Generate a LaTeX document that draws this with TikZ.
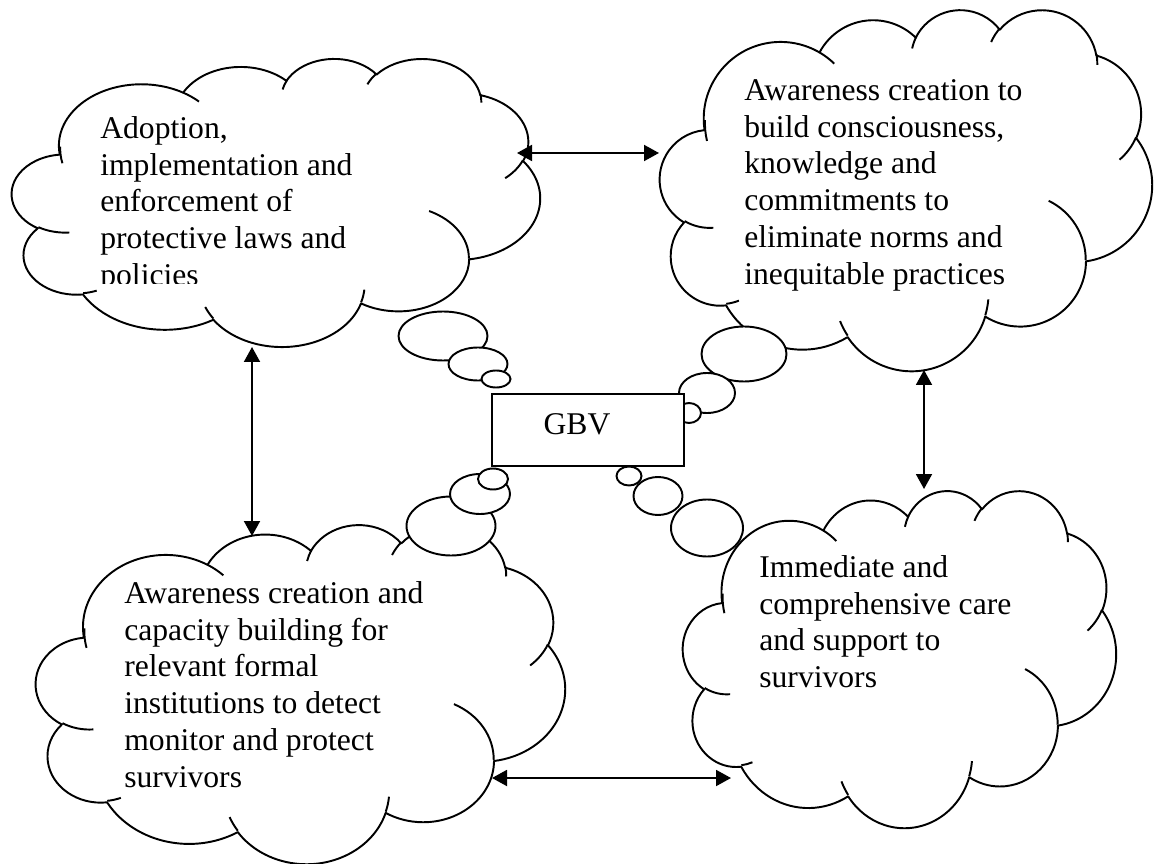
\documentclass[tikz,border=0pt]{standalone}
\usepackage{fontspec}
\setmainfont{Liberation Serif}
\usepackage{tikz}
\usetikzlibrary{positioning,calc,arrows.meta}

\newcommand\puff[4]{arc[x radius=#1, y radius=#2,
  start angle={atan2(#1*sin(#3),#2*cos(#3))},
  delta angle={mod(atan2(#1*sin(#3+#4),#2*cos(#3+#4))-atan2(#1*sin(#3),#2*cos(#3))+720,360)}]}

\newcommand\cloudoutline{(39.00,143.70)
  \puff{67.53}{91.90}{-190.4875}{123.7805}
  \puff{53.33}{72.67}{-144.1024}{89.9452}
  \puff{43.65}{59.45}{-145.8079}{99.7230}
  \puff{48.57}{65.95}{-130.9861}{117.2417}
  \puff{53.33}{72.73}{-78.7089}{109.0269}
  \puff{67.75}{92.20}{-46.2673}{130.2690}
  \puff{57.85}{78.67}{0.6250}{114.0333}
  \puff{67.52}{92.15}{22.4516}{115.1726}
  \puff{77.20}{105.43}{66.2426}{75.7110}
  \puff{43.60}{59.18}{-274.9421}{146.7356}
  \puff{43.45}{59.45}{-246.8285}{152.5189} -- cycle}

\newcommand\cloudhooks{(46.93,261.77) \puff{43.45}{59.45}{86.7420}{26.4295}
  (69.28,348.99) \puff{43.60}{59.18}{73.6105}{11.4475}
  (164.78,390.90) \puff{67.52}{92.15}{137.6242}{14.0811}
  (288.27,347.51) \puff{67.52}{92.15}{6.4533}{15.9984}
  (341.29,229.54) \puff{57.85}{78.67}{-70.2924}{70.9174}
  (417.98,153.54) \puff{53.33}{72.73}{30.3180}{27.7515}
  (383.24,54.26) \puff{48.57}{65.95}{-13.7443}{14.8547}
  (290.78,39.52) \puff{48.57}{65.95}{-149.1815}{18.1954}
  (221.41,47.20) \puff{43.65}{59.45}{-163.4943}{17.6864}
  (140.00,51.92) \puff{67.53}{91.90}{-66.7070}{12.3194}
  (41.27,157.89) \puff{67.53}{91.90}{162.0990}{21.1123}}

\newcommand\gbvcloud[4]{%
  \begin{scope}[shift={(#1,#2)},x=#3*0.02cm/432,y=-#4*0.02cm/432]
    \draw[cloudline,fill=white] \cloudoutline;
    \draw[cloudline] \cloudhooks;
  \end{scope}}

\begin{document}
\begin{tikzpicture}[x=0.02cm,y=-0.02cm,
  cloudline/.style={line width=1.1pt,line join=round},
  bubble/.style={draw,line width=1.1pt,fill=white},
  cloudtext/.style={anchor=north west,inner sep=0pt,align=left,font=\fontsize{18}{21}\selectfont},
  twoway/.style={{Triangle[length=0.3cm,width=0.32cm]}-{Triangle[length=0.3cm,width=0.32cm]},line width=1.1pt},
  gbvbox/.style={draw,line width=1.1pt,fill=white,minimum width=3.84cm,minimum height=1.44cm,inner sep=0pt}]

\fill[white] (0,0) rectangle (1155,864);
\useasboundingbox (0,0) rectangle (1155,864);

% laws and policies
\gbvcloud{12}{58}{528}{288}
\draw[bubble] (443,336) ellipse [x radius=44.5,y radius=24.5];
\draw[bubble] (478,364) ellipse [x radius=29.5,y radius=16.5];
\draw[bubble] (496,379) ellipse [x radius=14.5,y radius=8.5];
\begin{scope}
\clip (90,100) rectangle (480,284);
\node[cloudtext] (laws) at (100,112) {\strut Adoption,\\implementation and\\enforcement of\\protective laws and\\policies};
\end{scope}

% awareness creation
\gbvcloud{660}{9}{492}{361}
\draw[bubble] (744,354) ellipse [x radius=42.5,y radius=27.5];
\draw[bubble] (707,393) ellipse [x radius=28,y radius=20];
\draw[bubble] (689,413) ellipse [x radius=12,y radius=10];
\node[cloudtext] (aware) at (744,74) {\strut Awareness creation to\\build consciousness,\\knowledge and\\commitments to\\eliminate norms and\\inequitable practices};

% institutions
\gbvcloud{36}{524}{529}{339}
\draw[bubble] (451,526) ellipse [x radius=44.5,y radius=29.5];
\draw[bubble] (480,494) ellipse [x radius=30,y radius=20];
\draw[bubble] (493,479) ellipse [x radius=15,y radius=10.5];
\node[cloudtext] (inst) at (124,577) {\strut Awareness creation and\\capacity building for\\relevant formal\\institutions to detect\\monitor and protect\\survivors};

% care and support
\gbvcloud{683}{490}{433}{337}
\draw[bubble] (707,528) ellipse [x radius=36,y radius=28.5];
\draw[bubble] (658,496) ellipse [x radius=24.5,y radius=19];
\draw[bubble] (629,476) ellipse [x radius=12.5,y radius=9.5];
\node[cloudtext] (care) at (759,551) {\strut Immediate and\\comprehensive care\\and support to\\survivors};

% centre
\node[gbvbox] (gbv) at (588,430) {};
\node[anchor=base,inner sep=0pt,font=\fontsize{18}{21}\selectfont] (gbvlabel) at (577,434) {GBV};

% links
\coordinate (lawsE) at (517,153);
\coordinate (awareW) at (659,153);
\coordinate (lawsS) at (252,347);
\coordinate (instN) at (252,536);
\coordinate (awareS) at (924,370);
\coordinate (careN) at (924,489);
\coordinate (instE) at (492,778);
\coordinate (careW) at (731,778);
\draw[twoway] (lawsE) -- (awareW);
\draw[twoway] (lawsS) -- (instN);
\draw[twoway] (awareS) -- (careN);
\draw[twoway] (instE) -- (careW);
\end{tikzpicture}
\end{document}
